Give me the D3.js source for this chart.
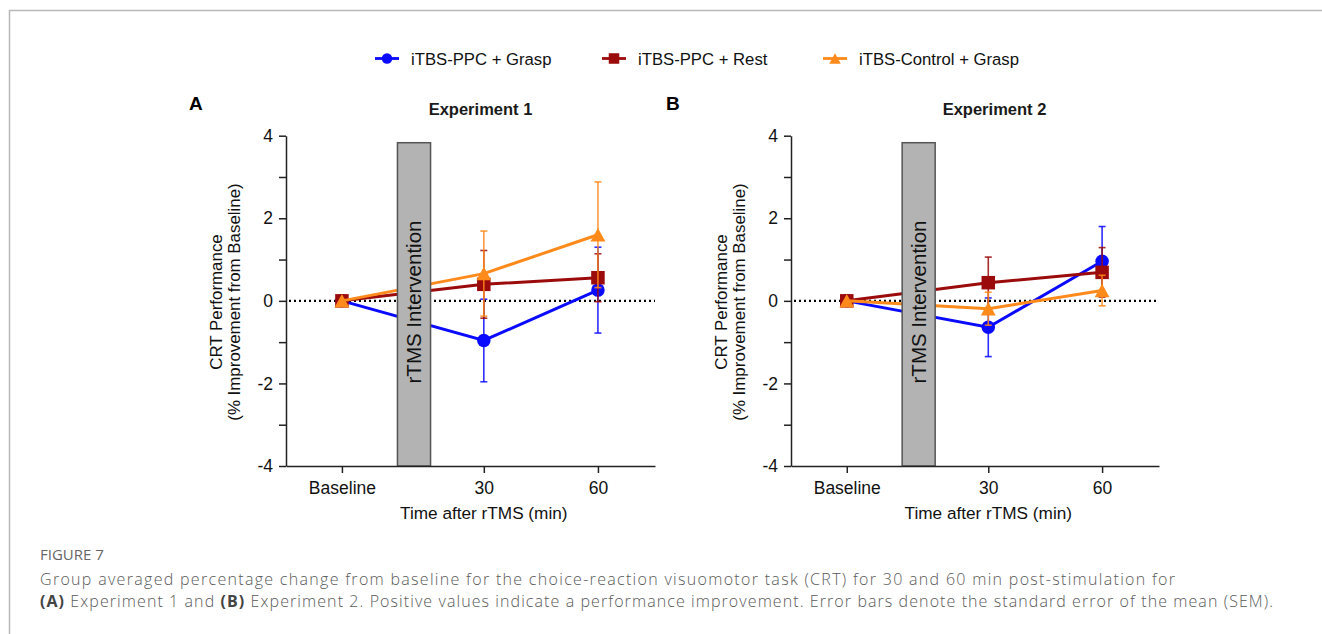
<!DOCTYPE html>
<html><head><meta charset="utf-8">
<script src="https://cdn.jsdelivr.net/npm/d3@7"></script>
<style>body{margin:0;background:#fff;} svg{display:block;}</style>
</head><body><svg id="chart" width="1322" height="634"></svg>
<script>
// ---------------- DATA ----------------
const categories = ["Baseline", "30", "60"];
const timeValues = [-7.3, 30, 60];           // Baseline plotted before the rTMS window
const seriesNames = ["iTBS-PPC + Grasp", "iTBS-PPC + Rest", "iTBS-Control + Grasp"];

// Experiment 1 (panel A): mean % improvement and SEM
const exp1PpcGraspMean = [0, -0.96, 0.26];
const exp1PpcGraspSem  = [0, 1.00, 1.04];
const exp1PpcRestMean  = [0, 0.40, 0.56];
const exp1PpcRestSem   = [0, 0.82, 0.58];
const exp1CtrlGraspMean = [0, 0.66, 1.60];
const exp1CtrlGraspSem  = [0, 1.03, 1.28];

// Experiment 2 (panel B)
const exp2PpcGraspMean = [0, -0.64, 0.96];
const exp2PpcGraspSem  = [0, 0.71, 0.84];
const exp2PpcRestMean  = [0, 0.44, 0.69];
const exp2PpcRestSem   = [0, 0.62, 0.60];
const exp2CtrlGraspMean = [0, -0.19, 0.25];
const exp2CtrlGraspSem  = [0, 0.40, 0.37];

const yTickValues = [-4, -3, -2, -1, 0, 1, 2, 3, 4];
const yTickLabels = ["-4", "", "-2", "", "0", "", "2", "", "4"];
const panelTitles = ["Experiment 1", "Experiment 2"];
const panelLetters = ["A", "B"];
const interventionLabel = "rTMS Intervention";
const interventionWindow = [7.3, 16];
const interventionTop = 3.83;
const xAxisTitle = "Time after rTMS (min)";
const yAxisTitle = ["CRT Performance", "(% Improvement from Baseline)"];
const captionHead = "FIGURE 7";
const captionLine1 = "Group averaged percentage change from baseline for the choice-reaction visuomotor task (CRT) for 30 and 60 min post-stimulation for";
const captionLine2 = [["(A)", true], [" Experiment 1 and ", false], ["(B)", true], [" Experiment 2. Positive values indicate a performance improvement. Error bars denote the standard error of the mean (SEM).", false]];

// ---------------- STYLE ----------------
const colors = ["#0a0aff", "#9b0b0b", "#ff8a1c"];
const shapes = ["circle", "square", "triangle"];
const FONT = "'Liberation Sans', Arial, Helvetica, sans-serif";

const svg = d3.select("#chart");
svg.append("rect").attr("width", 1322).attr("height", 634).attr("fill", "#fff");

// frame
svg.append("path").attr("d", "M9.5,634 L9.5,10.5 L1322,10.5")
  .attr("fill", "none").attr("stroke", "#b8b8b8").attr("stroke-width", 1.5);

function drawMarker(g, shape, cx, cy, s, color) {
  if (shape === "circle") {
    g.append("circle").attr("cx", cx).attr("cy", cy).attr("r", s / 2).attr("fill", color);
  } else if (shape === "square") {
    g.append("rect").attr("x", cx - s / 2).attr("y", cy - s / 2)
      .attr("width", s).attr("height", s).attr("fill", color);
  } else {
    const w = s * 1.1, h = s;
    g.append("path").attr("d", `M${cx},${cy - h / 2} L${cx + w / 2},${cy + h / 2} L${cx - w / 2},${cy + h / 2} Z`)
      .attr("fill", color);
  }
}

// ---------------- LEGEND ----------------
const legendX = [375, 602, 823];
const legend = svg.append("g");
seriesNames.forEach((name, i) => {
  const lx = legendX[i], ly = 58.5;
  legend.append("line").attr("x1", lx).attr("x2", lx + 24).attr("y1", ly).attr("y2", ly)
    .attr("stroke", colors[i]).attr("stroke-width", 2.8);
  drawMarker(legend, shapes[i], lx + 12, ly, 10.5, colors[i]);
  legend.append("text").attr("x", lx + 36).attr("y", 65)
    .attr("font-family", FONT).attr("font-size", 16.7).attr("fill", "#111").text(name);
});

// ---------------- PANELS ----------------
const panels = [
  { xRange: [286, 655], titleX: 480.5, letterX: 189,
    means: [exp1PpcGraspMean, exp1PpcRestMean, exp1CtrlGraspMean],
    sems: [exp1PpcGraspSem, exp1PpcRestSem, exp1CtrlGraspSem] },
  { xRange: [791, 1159], titleX: 994.5, letterX: 666,
    means: [exp2PpcGraspMean, exp2PpcRestMean, exp2CtrlGraspMean],
    sems: [exp2PpcGraspSem, exp2PpcRestSem, exp2CtrlGraspSem] }
];

const y = d3.scaleLinear().domain([-4, 4]).range([466, 135.7]);

panels.forEach((p, pi) => {
  const x = d3.scaleLinear().domain([-22, 75]).range(p.xRange);
  const g = svg.append("g");
  const ax0 = p.xRange[0];

  // letter + title
  g.append("text").attr("x", p.letterX).attr("y", 110).attr("font-family", FONT)
    .attr("font-weight", "bold").attr("font-size", 19).attr("fill", "#000").text(panelLetters[pi]);
  g.append("text").attr("x", p.titleX).attr("y", 114.5).attr("text-anchor", "middle")
    .attr("font-family", FONT).attr("font-weight", "bold").attr("font-size", 16.5)
    .attr("fill", "#1a1a1a").text(panelTitles[pi]);

  // zero line
  g.append("line").attr("x1", ax0 + 3).attr("x2", p.xRange[1]).attr("y1", y(0)).attr("y2", y(0))
    .attr("stroke", "#000").attr("stroke-width", 2.3).attr("stroke-dasharray", "2,3");

  // series
  p.means.forEach((m, si) => {
    const s = p.sems[si];
    const sg = g.append("g");
    const line = d3.line().x((d, i) => x(timeValues[i])).y(d => y(d));
    sg.append("path").datum(m).attr("d", line).attr("fill", "none")
      .attr("stroke", colors[si]).attr("stroke-width", 3);
    m.forEach((v, i) => {
      if (s[i] > 0) {
        const cx = x(timeValues[i]);
        const top = y(v + s[i]), bot = y(v - s[i]);
        sg.append("line").attr("x1", cx).attr("x2", cx).attr("y1", top).attr("y2", bot)
          .attr("stroke", colors[si]).attr("stroke-width", 1.6).attr("opacity", 0.85);
        [top, bot].forEach(yy => sg.append("line").attr("x1", cx - 3.5).attr("x2", cx + 3.5)
          .attr("y1", yy).attr("y2", yy).attr("stroke", colors[si]).attr("stroke-width", 1.6).attr("opacity", 0.85));
      }
    });
    m.forEach((v, i) => drawMarker(sg, shapes[si], x(timeValues[i]), y(v), 13.5, colors[si]));
  });

  // intervention bar (on top of data)
  const bx0 = x(interventionWindow[0]), bx1 = x(interventionWindow[1]);
  g.append("rect").attr("x", bx0).attr("y", y(interventionTop))
    .attr("width", bx1 - bx0).attr("height", y(-4) - y(interventionTop))
    .attr("fill", "#b3b3b3").attr("stroke", "#555").attr("stroke-width", 1.5);
  g.append("text").attr("transform", `translate(${(bx0 + bx1) / 2},${302}) rotate(-90)`)
    .attr("text-anchor", "middle").attr("dy", "0.36em").attr("font-family", FONT)
    .attr("font-size", 20.5).attr("fill", "#111").text(interventionLabel);

  // axes
  const yAxis = d3.axisLeft(y).tickValues(yTickValues).tickSize(7).tickSizeOuter(0)
    .tickPadding(6).tickFormat((d, i) => yTickLabels[i]);
  const ya = g.append("g").attr("transform", `translate(${ax0},0)`).call(yAxis);
  const xAxis = d3.axisBottom(x).tickValues(timeValues).tickSize(7).tickSizeOuter(0)
    .tickPadding(9).tickFormat((d, i) => categories[i]);
  const xa = g.append("g").attr("transform", `translate(0,${y(-4)})`).call(xAxis);
  [ya, xa].forEach(a => {
    a.selectAll("path,line").attr("stroke", "#222").attr("stroke-width", 1.5);
    a.selectAll("text").attr("font-family", FONT).attr("font-size", 17.5).attr("fill", "#111");
  });

  // axis titles
  g.append("text").attr("x", x(30)).attr("y", 518.5).attr("text-anchor", "middle")
    .attr("font-family", FONT).attr("font-size", 17.2).attr("fill", "#111").text(xAxisTitle);
  [[yAxisTitle[0], ax0 - 64.5], [yAxisTitle[1], ax0 - 46]].forEach(([t, bx]) => {
    g.append("text").attr("transform", `translate(${bx},302) rotate(-90)`)
      .attr("text-anchor", "middle").attr("font-family", FONT).attr("font-size", 16.9)
      .attr("fill", "#111").text(t);
  });
});

// ---------------- CAPTION ----------------
const CAPFONT = "'Open Sans', 'Noto Sans', sans-serif";
svg.append("text").attr("x", 40).attr("y", 560).attr("font-family", CAPFONT)
  .attr("font-size", 15).attr("fill", "#666").text(captionHead);
const c1 = svg.append("text").attr("x", 40).attr("y", 585).attr("font-family", CAPFONT)
  .attr("font-size", 16).attr("font-weight", 300).attr("fill", "#5a5a5a").text(captionLine1);
const c2 = svg.append("text").attr("x", 40).attr("y", 607).attr("font-family", CAPFONT)
  .attr("font-size", 16).attr("font-weight", 300).attr("fill", "#5a5a5a");
captionLine2.forEach(([t, b]) => c2.append("tspan").attr("font-weight", b ? 700 : 300)
  .attr("fill", b ? "#444" : "#5a5a5a").text(t));
// spread caption lines to the widths of the reference text block
c1.attr("textLength", 1135).attr("lengthAdjust", "spacing");
c2.attr("textLength", 1233).attr("lengthAdjust", "spacing");
</script></body></html>
